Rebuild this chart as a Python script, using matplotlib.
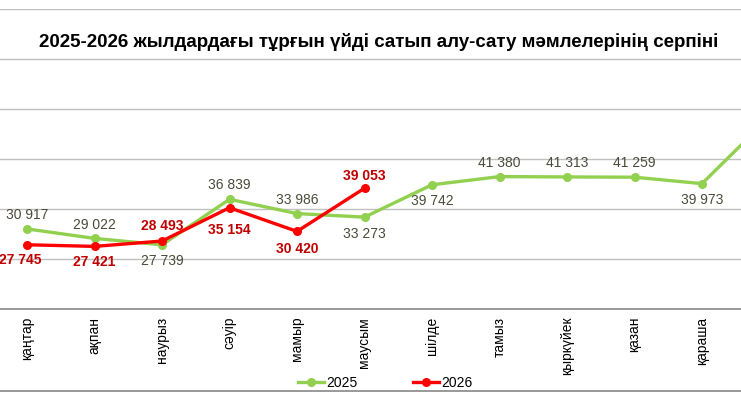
import matplotlib
matplotlib.use("Agg")
import matplotlib.pyplot as plt
from matplotlib import font_manager
from matplotlib.lines import Line2D

# month names (Kazakh) and yearly values
months = ["қаңтар", "ақпан", "наурыз", "сәуір", "мамыр", "маусым",
          "шілде", "тамыз", "қыркүйек", "қазан", "қараша", "желтоқсан"]
sales_2025 = [30917, 29022, 27739, 36839, 33986, 33273,
              39742, 41380, 41313, 41259, 39973, 53300]
sales_2026 = [27745, 27421, 28493, 35154, 30420, 39053]

# label offsets in points (dx, dy) for the data labels
offsets_2025 = [(0, 10), (0, 10), (0, -12), (0, 10), (0, 10), (0, -12),
                (0, -12), (0, 10), (0, 10), (0, 10), (0, -12)]
offsets_2026 = [(-5, -11), (0, -11), (0, 11), (0, -16), (0, -13), (0, 9)]

names = {f.name for f in font_manager.fontManager.ttflist}
base_font = "Liberation Sans" if "Liberation Sans" in names else "DejaVu Sans"
title_font = "Liberation Sans Narrow" if "Liberation Sans Narrow" in names else base_font
plt.rcParams["font.family"] = [base_font, "DejaVu Sans"]

W, H = 741, 407
fig = plt.figure(figsize=(W / 100, H / 100), dpi=100)
fig.patch.set_facecolor("white")

# plot area is wider than the picture (chart is cropped at both sides)
step = 67.5
x0 = 27 - step / 2
left_px, right_px = x0, x0 + 12 * step
top_px, bottom_px = 8.5, 308.5
ax = fig.add_axes([left_px / W, 1 - bottom_px / H,
                   (right_px - left_px) / W, (bottom_px - top_px) / H])

x = list(range(len(months)))
ax.plot(x, sales_2025, color="#92D050", lw=2.4, marker="o", ms=5.5,
        label="2025", zorder=3, clip_on=False)
ax.plot(x[:len(sales_2026)], sales_2026, color="#FF0000", lw=2.4, marker="o",
        ms=5.5, label="2026", zorder=4)

for i, v in enumerate(sales_2025[:len(offsets_2025)]):
    dx, dy = offsets_2025[i]
    ax.annotate(f"{v:,}".replace(",", " "), (i, v), xytext=(dx, dy),
                textcoords="offset points", ha="center", va="center",
                fontsize=10, color="#4B4B3A")

for i, v in enumerate(sales_2026):
    dx, dy = offsets_2026[i]
    ax.annotate(f"{v:,}".replace(",", " "), (i, v), xytext=(dx, dy),
                textcoords="offset points", ha="center", va="center",
                fontsize=10, color="#C00000", fontweight="bold")

ax.set_xlim(-0.5, 11.5)
ax.set_ylim(15000, 75000)
ax.set_yticks(range(15000, 75001, 10000))
ax.yaxis.grid(True, color="#BFBFBF", lw=1)
ax.set_axisbelow(True)
ax.tick_params(axis="y", left=False, labelleft=False)
ax.tick_params(axis="x", length=0, pad=6)
# only the months that fit inside the cropped picture get a label
ax.set_xticks(x[:11])
ax.set_xticklabels(months[:11], rotation=90, fontsize=10, color="#000000")
for s in ["top", "left", "right"]:
    ax.spines[s].set_visible(False)
ax.spines["bottom"].set_color("#888888")
ax.spines["bottom"].set_linewidth(1.2)

fig.text(379 / W, 1 - 42 / H,
         "2025-2026 жылдардағы тұрғын үйді сатып алу-сату мәмлелерінің серпіні",
         ha="center", va="center", fontsize=13.5, fontweight="bold",
         family=[title_font, "DejaVu Sans"])

fig.legend(loc="center", bbox_to_anchor=(385 / W, 1 - 383 / H), ncol=2,
           frameon=False, fontsize=10, handlelength=1.9, handletextpad=0.15,
           columnspacing=4.0)

# bottom border of the chart
fig.add_artist(Line2D([0, 1], [1 - 391 / H, 1 - 391 / H],
                      transform=fig.transFigure, color="#888888", lw=1.2))

fig.savefig("out.png", dpi=100, facecolor="white")
